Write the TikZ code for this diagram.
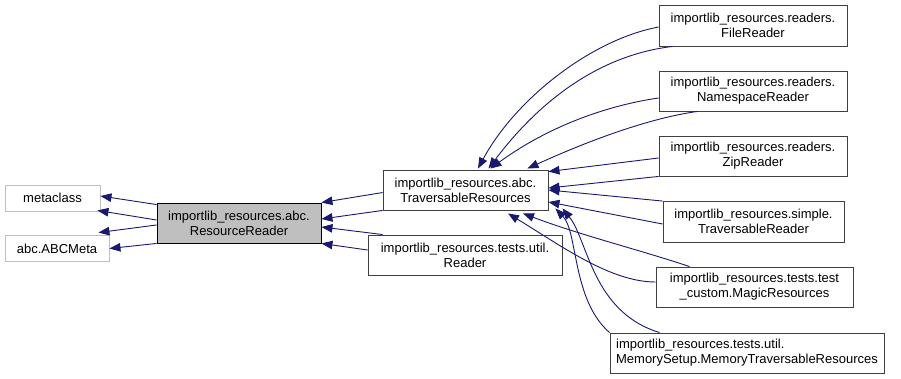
\documentclass[tikz,border=0pt]{standalone}
\usepackage{fontspec}
\setmainfont{Liberation Sans}
\usetikzlibrary{arrows.meta}
\definecolor{edgeblue}{HTML}{191970}
\definecolor{boxgray}{HTML}{BFBFBF}
\tikzset{
  cls/.style={draw=black!75, line width=0.9pt, fill=white, inner sep=0pt,
    align=center, font=\fontsize{13}{15}\selectfont},
  extcls/.style={cls, draw=boxgray},
  curcls/.style={cls, draw=black, fill=boxgray},
  edge/.style={draw=edgeblue, line width=0.9pt,
    {Triangle[length=11pt,width=8.5pt]}-},
}
\begin{document}
\begin{tikzpicture}[x=1pt,y=-1pt]
\useasboundingbox[fill=white] (0,0) rectangle (901,379);

% external base classes
\node[extcls, minimum width=95pt, minimum height=26pt] (meta) at (52.5,198) {metaclass};
\node[extcls, minimum width=104pt, minimum height=26pt] (abcmeta) at (57,248.5) {abc.ABCMeta};

% the documented class
\node[curcls, minimum width=164pt, minimum height=40pt] (rr) at (239,223)
  {importlib\_resources.abc.\\ResourceReader};

% direct subclasses
\node[cls, minimum width=165pt, minimum height=40pt] (trav) at (465.5,190)
  {importlib\_resources.abc.\\TraversableResources};
\node[cls, minimum width=194pt, minimum height=40pt] (reader) at (465,255)
  {importlib\_resources.tests.util.\\Reader};

% subclasses of TraversableResources
\node[cls, minimum width=188pt, minimum height=41pt] (file) at (753,25.5)
  {importlib\_resources.readers.\\FileReader};
\node[cls, minimum width=188pt, minimum height=40pt] (ns) at (753,91)
  {importlib\_resources.readers.\\NamespaceReader};
\node[cls, minimum width=188pt, minimum height=40pt] (zip) at (753,156)
  {importlib\_resources.readers.\\ZipReader};
\node[cls, minimum width=181pt, minimum height=41pt] (simple) at (753.5,221.5)
  {importlib\_resources.simple.\\TraversableReader};
\node[cls, minimum width=197pt, minimum height=40pt] (magic) at (754.5,287)
  {importlib\_resources.tests.test\\\_custom.MagicResources};
\node[cls, minimum width=274pt, minimum height=40pt, align=left] (mem) at (747,353)
  {importlib\_resources.tests.util.\\MemorySetup.MemoryTraversableResources};

% ResourceReader -> metaclasses
\draw[edge] ([yshift=2pt]meta.east) -- ([yshift=-2pt]rr.north west);
\draw[edge] ([xshift=-3pt,yshift=1pt]meta.south east) -- ([yshift=3pt]rr.west);
\draw[edge] ([xshift=-11pt,yshift=2.5pt]abcmeta.north east) -- ([yshift=-2pt]rr.west);
\draw[edge] (abcmeta.east) -- (rr.south west);

% TraversableResources / Reader -> ResourceReader
\draw[edge] (rr.north east) -- ([yshift=-23pt]trav.north west);
\draw[edge] ([yshift=4pt]rr.east) -- (trav.south west);
\draw[edge] ([yshift=-4pt]rr.east) -- ([xshift=15pt]reader.north west);
\draw[edge] (rr.south east) -- ([yshift=5pt]reader.west);

% subclasses -> TraversableResources
\draw[edge] ([xshift=12.5pt,yshift=1pt]trav.north)
  .. controls (515,100) and (590,40) .. ([yshift=-1.5pt]file.west);
\draw[edge] ([xshift=23pt,yshift=1pt]trav.north)
  .. controls (540,100) and (600,55) .. ([xshift=14pt]file.south west);
\draw[edge] ([xshift=25pt,yshift=1pt]trav.north)
  .. controls (550,125) and (610,105) .. ([yshift=-7pt]ns.west);
\draw[edge] ([xshift=-21pt,yshift=1pt]trav.north east)
  .. controls (590,140) and (650,118) .. ([xshift=39pt]ns.south west);
\draw[edge] ([yshift=-2pt]trav.north east) -- ([yshift=-2pt]zip.west);
\draw[edge] ([yshift=2pt]trav.east) -- (zip.south west);
\draw[edge] (trav.east) -- ([yshift=-0.5pt]simple.north west);
\draw[edge] ([yshift=-12pt]trav.east) -- ([yshift=-2.5pt]simple.west);
\draw[edge] ([xshift=42.5pt,yshift=-3pt]trav.south)
  .. controls (560,245) and (610,282) .. ([yshift=5pt]magic.west);
\draw[edge] ([xshift=57.5pt,yshift=-3pt]trav.south)
  .. controls (580,235) and (640,250) .. ([xshift=34pt]magic.north west);
\draw[edge] ([xshift=7pt,yshift=2pt]trav.south east)
  .. controls (578,232) and (572,300) .. (mem.north west);
\draw[edge] ([xshift=14pt,yshift=2pt]trav.south east)
  .. controls (588,240) and (592,312) .. ([xshift=50pt]mem.north west);
\end{tikzpicture}
\end{document}
